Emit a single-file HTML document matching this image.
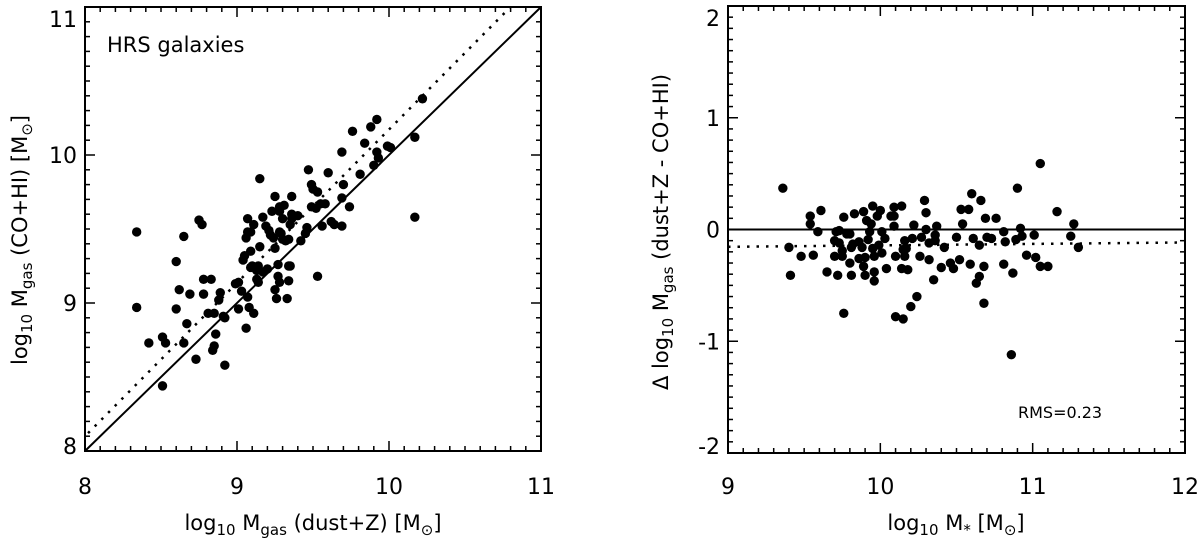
<!DOCTYPE html>
<html><head><meta charset="utf-8"><style>
html,body{margin:0;padding:0;background:#fff;}
svg{display:block;font-family:"DejaVu Sans","Liberation Sans",sans-serif;}
</style></head><body>
<svg id="chart" width="1200" height="539" viewBox="0 0 1200 539" xmlns="http://www.w3.org/2000/svg">
<g id="left"></g>
<g id="right"></g>
<text x="313" y="530" font-size="21" text-anchor="middle">log<tspan font-size="15" dy="5">10</tspan><tspan dy="-5"> M</tspan><tspan font-size="15" dy="5">gas</tspan><tspan dy="-5"> (dust+Z) [M</tspan><tspan font-size="15" dy="5">⊙</tspan><tspan dy="-5">]</tspan></text>
<text transform="translate(27,240) rotate(-90)" font-size="21" text-anchor="middle">log<tspan font-size="15" dy="5">10</tspan><tspan dy="-5"> M</tspan><tspan font-size="15" dy="5">gas</tspan><tspan dy="-5"> (CO+HI) [M</tspan><tspan font-size="15" dy="5">⊙</tspan><tspan dy="-5">]</tspan></text>
<text x="956" y="530" font-size="21" text-anchor="middle">log<tspan font-size="15" dy="5">10</tspan><tspan dy="-5"> M</tspan><tspan font-size="15" dy="5">*</tspan><tspan dy="-5"> [M</tspan><tspan font-size="15" dy="5">⊙</tspan><tspan dy="-5">]</tspan></text>
<text transform="translate(668,232) rotate(-90)" font-size="21" text-anchor="middle">Δ log<tspan font-size="15" dy="5">10</tspan><tspan dy="-5"> M</tspan><tspan font-size="15" dy="5">gas</tspan><tspan dy="-5"> (dust+Z - CO+HI)</tspan></text>
<text x="107" y="52" font-size="21">HRS galaxies</text>
<text x="1018" y="418" font-size="16">RMS=0.23</text>
</svg>
<script>
const leftX=[8.34,8.34,8.42,8.51,8.53,8.51,8.60,8.62,8.60,8.65,8.67,8.65,8.69,8.73,8.75,8.77,8.78,8.83,8.78,8.81,8.85,8.86,8.85,8.84,8.88,8.89,8.91,8.92,8.92,8.99,9.01,9.01,9.03,9.06,9.07,9.08,9.11,9.04,9.05,9.07,9.07,9.06,9.09,9.11,9.09,9.10,9.09,9.13,9.15,9.14,9.13,9.14,9.17,9.20,9.15,9.17,9.19,9.21,9.22,9.23,9.25,9.24,9.25,9.28,9.28,9.30,9.31,9.28,9.29,9.30,9.32,9.34,9.27,9.27,9.28,9.25,9.26,9.33,9.34,9.35,9.34,9.36,9.36,9.36,9.35,9.40,9.42,9.45,9.46,9.47,9.49,9.50,9.53,9.49,9.52,9.55,9.58,9.56,9.60,9.62,9.64,9.69,9.70,9.69,9.74,9.69,9.76,9.81,9.84,9.88,9.92,9.90,9.92,9.93,9.99,10.01,10.17,10.17,10.22,9.53];
const leftY=[9.48,8.97,8.73,8.77,8.73,8.44,9.28,9.09,8.96,9.45,8.86,8.73,9.06,8.62,9.56,9.53,9.16,9.16,9.06,8.93,8.93,8.79,8.71,8.68,9.02,9.07,8.91,8.90,8.58,9.13,9.14,8.96,9.08,8.83,9.04,8.97,8.93,9.29,9.32,9.48,9.57,9.44,9.48,9.53,9.35,9.25,9.24,9.22,9.38,9.25,9.16,9.14,9.21,9.23,9.84,9.58,9.52,9.49,9.46,9.62,9.72,9.44,9.37,9.65,9.62,9.57,9.66,9.48,9.47,9.43,9.42,9.43,9.26,9.18,9.14,9.09,9.03,9.03,9.25,9.25,9.15,9.72,9.60,9.57,9.53,9.59,9.42,9.47,9.51,9.90,9.80,9.77,9.75,9.65,9.64,9.67,9.67,9.52,9.88,9.55,9.53,9.71,9.80,9.52,9.65,10.02,10.16,9.87,10.08,10.19,10.24,9.93,10.02,9.98,10.06,10.05,9.58,10.12,10.38,9.18];
const rightX=[9.36,9.40,9.41,9.48,9.54,9.54,9.56,9.59,9.61,9.65,9.70,9.70,9.71,9.72,9.73,9.73,9.75,9.75,9.76,9.76,9.78,9.80,9.80,9.81,9.81,9.82,9.83,9.86,9.86,9.88,9.89,9.89,9.90,9.90,9.91,9.92,9.93,9.94,9.95,9.95,9.96,9.96,9.96,9.98,9.99,10.00,10.01,10.01,10.03,10.04,10.07,10.09,10.09,10.09,10.10,10.10,10.14,10.14,10.15,10.15,10.16,10.16,10.17,10.18,10.20,10.21,10.22,10.24,10.26,10.27,10.29,10.30,10.30,10.32,10.32,10.35,10.36,10.36,10.37,10.40,10.42,10.46,10.48,10.50,10.52,10.53,10.54,10.58,10.59,10.60,10.61,10.63,10.65,10.65,10.66,10.68,10.68,10.69,10.70,10.73,10.76,10.81,10.81,10.82,10.86,10.87,10.89,10.90,10.92,10.93,10.96,11.01,11.02,11.05,11.05,11.10,11.16,11.25,11.27,11.30];
const rightY=[0.37,-0.16,-0.41,-0.24,0.12,0.05,-0.23,-0.02,0.17,-0.38,-0.24,-0.10,-0.02,-0.41,-0.12,-0.01,-0.19,-0.24,-0.75,0.11,-0.04,-0.04,-0.30,-0.41,-0.16,-0.13,0.14,-0.11,-0.26,-0.16,0.16,-0.33,-0.41,-0.25,0.08,-0.09,-0.02,0.05,-0.17,0.21,-0.24,-0.38,-0.46,0.12,-0.14,0.17,-0.02,-0.21,-0.08,-0.35,0.12,0.12,0.03,0.20,-0.24,-0.78,0.21,-0.35,-0.80,-0.18,-0.24,-0.10,-0.17,-0.36,-0.69,-0.08,0.04,-0.60,-0.24,-0.07,0.26,0.15,0.00,-0.27,-0.12,-0.45,-0.05,-0.10,0.03,-0.34,-0.16,-0.30,-0.35,-0.07,-0.27,0.18,0.05,0.18,-0.31,0.32,-0.08,-0.48,-0.42,-0.14,0.26,-0.66,-0.33,0.10,-0.07,-0.08,0.10,-0.31,-0.02,-0.11,-1.12,-0.39,-0.09,0.37,0.01,-0.06,-0.23,-0.05,-0.25,0.59,-0.33,-0.33,0.16,-0.06,0.05,-0.16];
const leftTicks=["8","9","10","11"];
const rightXTicks=["9","10","11","12"];
const rightYTicks=["-2","-1","0","1","2"];
const leftFit=[8.1,1.036];   // intercept at x=8, slope (dotted)
const rightFit=[-0.155,0.013]; // value at x=9, slope (dotted)

const NS="http://www.w3.org/2000/svg";
function mk(tag,attrs,parent){const e=document.createElementNS(NS,tag);for(const k in attrs)e.setAttribute(k,attrs[k]);parent.appendChild(e);return e;}

function panel(g,box,xr,yr,xt,yt,name){
  const sx=v=>box.x0+(v-xr[0])/(xr[1]-xr[0])*(box.x1-box.x0);
  const sy=v=>box.y1-(v-yr[0])/(yr[1]-yr[0])*(box.y1-box.y0);
  const step=0.1;
  for(let v=xr[0];v<=xr[1]+1e-6;v+=step){
    const major=Math.abs(v-Math.round(v))<1e-6, L=major?10:5, X=sx(v);
    const t1=mk('line',{x1:X,y1:box.y1,x2:X,y2:box.y1-L,stroke:'#000','stroke-width':1.5},g);
    
    
    const t2=mk('line',{x1:X,y1:box.y0,x2:X,y2:box.y0+L,stroke:'#000','stroke-width':1.5},g);
    
    
  }
  for(let v=yr[0];v<=yr[1]+1e-6;v+=step){
    const major=Math.abs(v-Math.round(v))<1e-6, L=major?10:5, Y=sy(v);
    const t1=mk('line',{x1:box.x0,y1:Y,x2:box.x0+L,y2:Y,stroke:'#000','stroke-width':1.5},g);
    
    
    const t2=mk('line',{x1:box.x1,y1:Y,x2:box.x1-L,y2:Y,stroke:'#000','stroke-width':1.5},g);
    
    
  }
  xt.forEach(s=>{const t=mk('text',{x:sx(+s),y:494,'font-size':22,'text-anchor':'middle'},g);t.textContent=s;
    
    });
  yt.forEach(s=>{let c=Math.min(446,Math.max(box.y0+12,sy(+s)));const t=mk('text',{x:box.x0-8,y:c+8,'font-size':22,'text-anchor':'end'},g);t.textContent=s;
    
    });
  return {sx,sy};
}

const gl=document.getElementById('left');
const LB={x0:85,x1:541,y0:7,y1:451};
const L=panel(gl,LB,[8,11],[8,11],leftTicks,leftTicks,'left');
let ln=mk('line',{x1:L.sx(8),y1:L.sy(8),x2:L.sx(11),y2:L.sy(11),stroke:'#000','stroke-width':2},gl);


const lx2=8+(11-leftFit[0])/leftFit[1];
ln=mk('line',{x1:L.sx(8.02),y1:L.sy(leftFit[0]+leftFit[1]*0.02),x2:L.sx(lx2),y2:L.sy(11),stroke:'#000','stroke-width':2.5,'stroke-dasharray':'2.5 7'},gl);


leftX.forEach((v,i)=>{const c=mk('circle',{cx:L.sx(v),cy:L.sy(leftY[i]),r:4.7,fill:'#000'},gl);
  
  });
let fr=mk('rect',{x:LB.x0,y:LB.y0,width:LB.x1-LB.x0,height:LB.y1-LB.y0,fill:'none',stroke:'#000','stroke-width':2},gl);



const gr=document.getElementById('right');
const RB={x0:728,x1:1185,y0:6,y1:453};
const R=panel(gr,RB,[9,12],[-2,2],rightXTicks,rightYTicks,'right');
ln=mk('line',{x1:R.sx(9),y1:R.sy(0),x2:R.sx(12),y2:R.sy(0),stroke:'#000','stroke-width':2},gr);


ln=mk('line',{x1:R.sx(9),y1:R.sy(rightFit[0]),x2:R.sx(12),y2:R.sy(rightFit[0]+3*rightFit[1]),stroke:'#000','stroke-width':2.5,'stroke-dasharray':'2.5 7'},gr);


rightX.forEach((v,i)=>{const c=mk('circle',{cx:R.sx(v),cy:R.sy(rightY[i]),r:4.7,fill:'#000'},gr);
  
  });
fr=mk('rect',{x:RB.x0,y:RB.y0,width:RB.x1-RB.x0,height:RB.y1-RB.y0,fill:'none',stroke:'#000','stroke-width':2},gr);


</script>
</body></html>
